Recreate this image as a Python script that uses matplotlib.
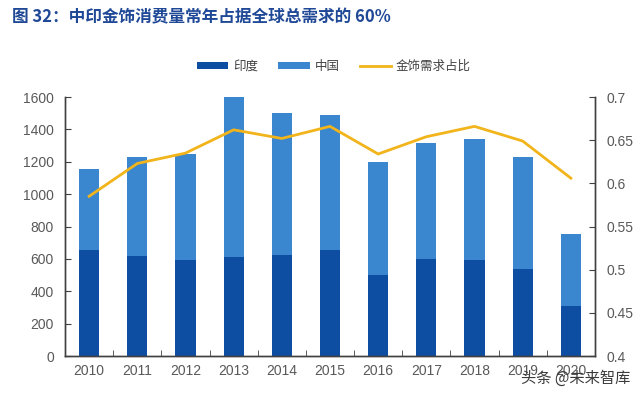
import matplotlib
matplotlib.use("Agg")
import matplotlib.pyplot as plt
import numpy as np

plt.rcParams['font.family'] = ['Liberation Sans', 'Noto Sans CJK SC', 'DejaVu Sans']

years = ['2010', '2011', '2012', '2013', '2014', '2015', '2016', '2017', '2018', '2019', '2020']
india = [656, 615, 591, 613, 623, 656, 500, 597, 593, 539, 310]
total = [1158, 1227, 1251, 1600, 1504, 1490, 1199, 1319, 1341, 1227, 751]
china = [t - i for t, i in zip(total, india)]
ratio = [0.585, 0.623, 0.635, 0.662, 0.652, 0.666, 0.634, 0.654, 0.666, 0.649, 0.606]

c_india = '#0d4ea3'
c_china = '#3a86cf'
c_line = '#f2b41b'
spine_c = '#404040'
txt_c = '#595959'

fig = plt.figure(figsize=(6.4, 3.96), dpi=100)
ax = fig.add_axes([0.1016, 0.101, 0.828, 0.654])
x = np.arange(len(years))
w = 0.42
b1 = ax.bar(x, india, w, color=c_india, label='印度', zorder=2)
b2 = ax.bar(x, china, w, bottom=india, color=c_china, label='中国', zorder=2)
ax.set_xlim(-0.5, len(years) - 0.5)
ax.set_ylim(0, 1600)
ax.set_yticks(np.arange(0, 1601, 200))
ax.set_xticks(x)
ax.set_xticklabels(years)
ax.set_xticks(np.arange(-0.5, len(years), 1), minor=True)
ax.tick_params(axis='x', which='major', length=0, pad=6, labelsize=10, labelcolor=txt_c)
ax.tick_params(axis='x', which='minor', direction='in', length=4, color=spine_c)
ax.tick_params(axis='y', direction='in', length=4, color=spine_c, labelsize=10, labelcolor=txt_c, pad=8)

ax2 = ax.twinx()
ln, = ax2.plot(x, ratio, color=c_line, lw=2.0, label='金饰需求占比', zorder=3)
ax2.set_ylim(0.4, 0.7)
ax2.set_yticks([0.4, 0.45, 0.5, 0.55, 0.6, 0.65, 0.7])
ax2.set_yticklabels(['0.4', '0.45', '0.5', '0.55', '0.6', '0.65', '0.7'])
ax2.tick_params(axis='y', direction='in', length=4, color=spine_c, labelsize=10, labelcolor=txt_c, pad=8)

for a in (ax, ax2):
    a.spines['top'].set_visible(False)
    for s in ('left', 'right', 'bottom'):
        a.spines[s].set_color(spine_c)
        a.spines[s].set_linewidth(1.0)

leg = fig.legend(handles=[b1, b2, ln], labels=['印度', '中国', '金饰需求占比'],
                 loc='center', bbox_to_anchor=(0.522, 0.832), ncol=3, frameon=False,
                 prop={'family': ['Noto Sans CJK SC'], 'size': 9},
                 handlelength=2.5, handleheight=0.55, columnspacing=1.6, handletextpad=0.4)
for t in leg.get_texts():
    t.set_color('#404040')

fig.text(0.019, 0.955, '图 32：中印金饰消费量常年占据全球总需求的 60%', fontsize=12,
         fontweight='bold', color='#1f4896', family=['Noto Sans CJK SC', 'DejaVu Sans'],
         va='center', ha='left')

fig.text(0.985, 0.045, '头条 @未来智库', fontsize=11, color='#3a3a3a',
         family=['Noto Sans CJK SC', 'DejaVu Sans'], ha='right', va='center')

fig.savefig('out.png', dpi=100)
